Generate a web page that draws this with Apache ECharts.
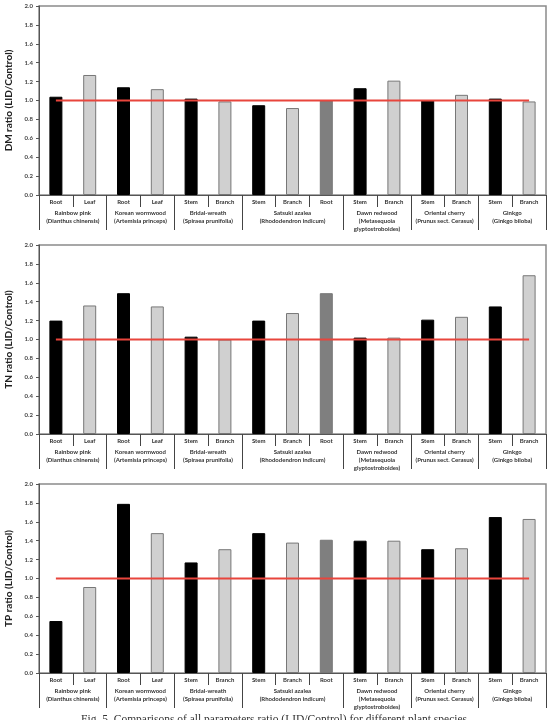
<!DOCTYPE html>
<html><head><meta charset="utf-8">
<script src="https://cdn.jsdelivr.net/npm/echarts@6/dist/echarts.min.js"></script>
<style>html,body{margin:0;padding:0;background:#fff}#c{width:551px;height:720px}</style>
</head><body><div id="c"></div>
<script>
// ---------- DATA ----------
const parts = ['Root','Leaf','Root','Leaf','Stem','Branch','Stem','Branch','Root','Stem','Branch','Stem','Branch','Stem','Branch'];
const groups = ['Rainbow pink\n(Dianthus chinensis)','Korean wormwood\n(Artemisia princeps)','Bridal-wreath\n(Spiraea prunifolia)','Satsuki azalea\n(Rhododendron indicum)','Dawn redwood\n(Metasequoia\nglyptostroboides)','Oriental cherry\n(Prunus sect. Cerasus)','Ginkgo\n(Ginkgo biloba)'];
const groupSizes = [2,2,2,3,2,2,2];
const dmValues = [1.04,1.27,1.14,1.12,1.02,0.99,0.95,0.92,1.00,1.13,1.21,1.00,1.06,1.02,0.99];
const tnValues = [1.20,1.36,1.49,1.35,1.03,1.00,1.20,1.28,1.49,1.02,1.02,1.21,1.24,1.35,1.68];
const tpValues = [0.55,0.91,1.79,1.48,1.17,1.31,1.48,1.38,1.41,1.40,1.40,1.31,1.32,1.65,1.63];
const refValue = 1.0;
const yMin = 0, yMax = 2.0, yStep = 0.2;
const yNames = ['DM ratio (LID/Control)','TN ratio (LID/Control)','TP ratio (LID/Control)'];
const caption = 'Fig. 5. Comparisons of all parameters ratio (LID/Control) for different plant species.';
// ---------------------------

const panels = [dmValues, tnValues, tpValues];
const gridTops = [6, 245, 484];
const gridH = 189;
const shades = ['#000000', '#d0d0d0', '#7f7f7f'];

const partPos = [];
groupSizes.forEach(n => { for (let k = 0; k < n; k++) partPos.push(k); });

const halfCats = new Array(parts.length * 2 + 1).fill('');
const boundarySet = new Set([0]);
let s = 0;
groups.forEach((g, i) => {
  halfCats[2 * s + groupSizes[i]] = g;
  s += groupSizes[i];
  boundarySet.add(2 * s);
});

const font = 'Lato, "Open Sans", sans-serif';
const grid = [], xAxis = [], yAxis = [], series = [];
panels.forEach((vals, p) => {
  grid.push({ left: 39, right: 5, top: gridTops[p], height: gridH, show: true,
    borderColor: '#8a8a8a', borderWidth: 1.5, containLabel: false, outerBoundsMode: 'none' });
  xAxis.push({
    type: 'category', gridIndex: p, data: parts, position: 'bottom',
    axisLine: { lineStyle: { color: '#555', width: 1 } },
    axisTick: { show: true, interval: 0, length: 12, lineStyle: { color: '#444', width: 1 } },
    axisLabel: { interval: 0, fontSize: 6, fontWeight: 'bold', color: '#333', margin: 4, fontFamily: font }
  });
  xAxis.push({
    type: 'category', gridIndex: p, data: halfCats, position: 'bottom', boundaryGap: false,
    axisLine: { show: false },
    axisTick: { show: true, interval: (i) => boundarySet.has(i), length: 35, lineStyle: { color: '#444', width: 1 } },
    axisLabel: { interval: 0, fontSize: 6, fontWeight: 'bold', color: '#333', margin: 14, lineHeight: 8, fontFamily: font }
  });
  yAxis.push({
    type: 'value', gridIndex: p, min: yMin, max: yMax, interval: yStep,
    name: yNames[p], nameLocation: 'middle', nameGap: 25,
    nameTextStyle: { fontSize: 10, fontWeight: 'bold', color: '#222', fontFamily: font },
    axisLine: { show: true, lineStyle: { color: '#555', width: 1 } },
    axisTick: { show: true, length: 3, lineStyle: { color: '#555' } },
    splitLine: { show: false },
    axisLabel: { fontSize: 6, fontWeight: 'bold', color: '#444', margin: 6, fontFamily: font,
      formatter: v => v.toFixed(1) }
  });
  series.push({
    type: 'bar', xAxisIndex: 2 * p, yAxisIndex: p, barWidth: 13,
    data: vals.map((v, i) => ({ value: v, itemStyle: {
      color: shades[partPos[i]],
      borderColor: partPos[i] === 0 ? '#000' : '#777', borderWidth: 1 } })),
    silent: true
  });
  series.push({
    type: 'line', xAxisIndex: 2 * p, yAxisIndex: p, data: parts.map(() => refValue),
    symbol: 'none', lineStyle: { color: '#e8453c', width: 1.8 }, z: 5, silent: true
  });
});

const chart = echarts.init(document.getElementById('c'), null, { renderer: 'canvas' });
chart.setOption({
  animation: false, backgroundColor: '#fff',
  grid, xAxis, yAxis, series,
  graphic: [{ type: 'text', left: 'center', top: 714,
    style: { text: caption, font: '11.5px "Liberation Serif", serif', fill: '#333' } }]
});
</script></body></html>
